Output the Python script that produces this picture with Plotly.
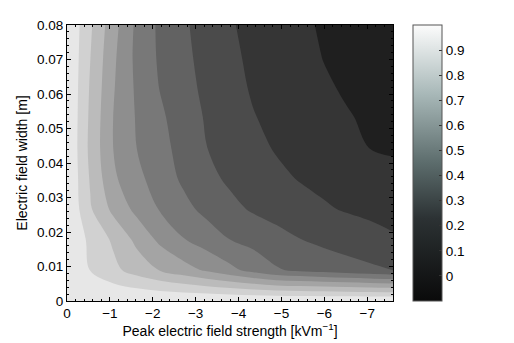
import plotly.graph_objects as go

# peak electric field strength [kV/m] (grid columns)
field_strength = [0, -0.543, -1.086, -1.629, -2.171, -2.714, -3.257, -3.8,
                  -4.343, -4.886, -5.429, -5.971, -6.514, -7.057, -7.6]

# electric field width [m] (grid rows)
field_width = [0, 0.0089, 0.0178, 0.0267, 0.0356, 0.0444, 0.0533, 0.0622, 0.0711, 0.08]

z_w0 = [1.0, 1.0, 1.0, 1.0, 1.0, 1.0, 1.0, 1.0, 1.0, 1.0, 1.0, 1.0, 1.0, 1.0, 1.0]
z_w1 = [1.0, 0.898, 0.825, 0.758, 0.696, 0.642, 0.587, 0.527, 0.468, 0.410, 0.383, 0.362, 0.341, 0.321, 0.300]
z_w2 = [1.0, 0.876, 0.783, 0.674, 0.577, 0.505, 0.452, 0.400, 0.367, 0.333, 0.302, 0.278, 0.256, 0.234, 0.212]
z_w3 = [1.0, 0.810, 0.673, 0.572, 0.492, 0.428, 0.373, 0.326, 0.288, 0.263, 0.237, 0.211, 0.192, 0.179, 0.165]
z_w4 = [1.0, 0.790, 0.616, 0.526, 0.451, 0.383, 0.326, 0.283, 0.252, 0.221, 0.194, 0.177, 0.160, 0.142, 0.125]
z_w5 = [1.0, 0.775, 0.597, 0.499, 0.432, 0.365, 0.301, 0.262, 0.225, 0.192, 0.169, 0.146, 0.123, 0.099, 0.090]
z_w6 = [1.0, 0.781, 0.597, 0.491, 0.417, 0.350, 0.290, 0.247, 0.204, 0.178, 0.154, 0.130, 0.105, 0.090, 0.080]
z_w7 = [1.0, 0.790, 0.607, 0.482, 0.395, 0.333, 0.277, 0.229, 0.190, 0.163, 0.136, 0.109, 0.092, 0.080, 0.070]
z_w8 = [1.0, 0.802, 0.618, 0.473, 0.385, 0.322, 0.268, 0.218, 0.182, 0.154, 0.126, 0.098, 0.083, 0.072, 0.063]
z_w9 = [1.0, 0.815, 0.635, 0.478, 0.380, 0.314, 0.260, 0.208, 0.176, 0.147, 0.118, 0.090, 0.078, 0.068, 0.060]

colorbar_ticks = [0, 0.1, 0.2, 0.3, 0.4, 0.5, 0.6, 0.7, 0.8, 0.9]

FONT = "Liberation Sans, Arial, sans-serif"

z = [z_w0, z_w1, z_w2, z_w3, z_w4, z_w5, z_w6, z_w7, z_w8, z_w9]

fig = go.Figure()
fig.add_trace(go.Contour(x=field_strength, y=field_width, z=z,
                         autocontour=False,
                         contours=dict(start=0.1, end=0.9, size=0.1,
                                       coloring="fill", showlines=False),
                         line=dict(width=0),
                         colorscale=[[0, "rgb(31,31,31)"], [1, "rgb(231,231,231)"]],
                         showscale=False,
                         hoverinfo="skip"))

# colour bar drawn on its own, like the bone-ish bar of the original
bone = [[0, "rgb(10,10,10)"], [0.3, "rgb(44,50,52)"], [0.5, "rgb(92,108,108)"],
        [0.75, "rgb(168,184,184)"], [1, "rgb(252,252,252)"]]
fig.add_trace(go.Scatter(x=[None], y=[None], mode="markers", showlegend=False,
                         marker=dict(color=[0], colorscale=bone, cmin=-0.1, cmax=1.0,
                                     showscale=True,
                                     colorbar=dict(x=1.061, xanchor="left", xpad=0,
                                                   y=0.5, yanchor="middle", len=1, ypad=0,
                                                   thickness=29, outlinewidth=1,
                                                   outlinecolor="#555",
                                                   tickvals=colorbar_ticks,
                                                   ticks="inside", ticklen=3,
                                                   tickcolor="#333",
                                                   tickfont=dict(size=13.5, color="black")))))

axis_common = dict(showline=True, linecolor="black", linewidth=1, mirror="allticks",
                   ticks="inside", ticklen=4, tickcolor="black", showgrid=False,
                   zeroline=False, automargin=False,
                   tickfont=dict(size=13.5, color="black"))

fig.update_xaxes(range=[0, -7.6], dtick=1, tick0=0,
                 minor=dict(dtick=0.2, ticks="inside", ticklen=2, tickcolor="black"),
                 title=dict(text="Peak electric field strength [kVm<sup>\u22121</sup>]",
                            font=dict(size=14, color="black"), standoff=4),
                 **axis_common)
fig.update_yaxes(range=[0, 0.08], dtick=0.01, tick0=0,
                 minor=dict(dtick=0.002, ticks="inside", ticklen=2, tickcolor="black"),
                 title=dict(text="Electric field width [m]",
                            font=dict(size=14, color="black"), standoff=6),
                 **axis_common)

# the page body adds 8px at the top-left, so margins are set 8px smaller there
fig.update_layout(width=514, height=343,
                  margin=dict(l=59, r=129, t=17, b=50),
                  paper_bgcolor="white", plot_bgcolor="white",
                  font=dict(family=FONT, color="black"),
                  showlegend=False)

fig.write_html("out.html")
